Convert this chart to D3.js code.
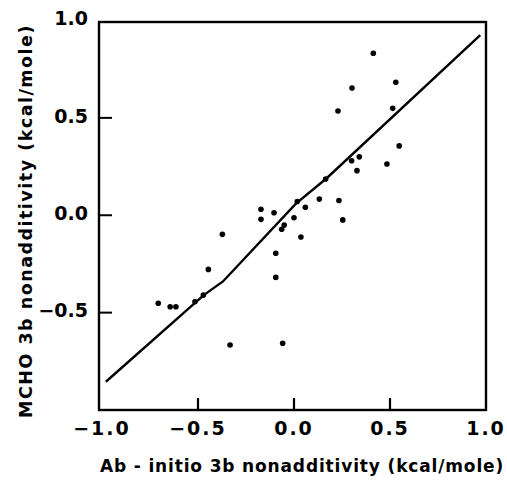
<!DOCTYPE html>
<html>
<head>
<meta charset="utf-8">
<script src="https://cdn.jsdelivr.net/npm/d3@7/dist/d3.min.js"></script>
<style>
  html, body { margin: 0; padding: 0; background: #fff; }
  svg { display: block; }
  text { font-family: "DejaVu Sans", "Liberation Sans", sans-serif; fill: #000; }
</style>
</head>
<body>
<svg id="chart" width="507" height="484"></svg>
<script>
// Ab initio (x) vs MCHO (y) three-body nonadditivity, kcal/mole
const abInitio = [-0.707, -0.645, -0.615, -0.516, -0.472, -0.446, -0.373, -0.333,
  -0.172, -0.172, -0.104, -0.095, -0.095, -0.059, -0.064, -0.051, 0.0, 0.017,
  0.036, 0.059, 0.132, 0.234, 0.254, 0.165, 0.300, 0.340, 0.328, 0.484, 0.548,
  0.229, 0.302, 0.514, 0.530, 0.413];
const mcho = [-0.452, -0.470, -0.470, -0.444, -0.410, -0.278, -0.098, -0.666,
  0.031, -0.021, 0.013, -0.195, -0.319, -0.657, -0.072, -0.050, -0.013, 0.070,
  -0.112, 0.041, 0.083, 0.076, -0.024, 0.186, 0.280, 0.300, 0.229, 0.263, 0.356,
  0.535, 0.653, 0.549, 0.683, 0.832];

// fitted trend line
const fitX = [-0.98, -0.47, -0.37, 0.01, 0.17, 0.97];
const fitY = [-0.855, -0.41, -0.34, 0.06, 0.19, 0.925];

const xTicks = [-1.0, -0.5, 0.0, 0.5, 1.0];
const yTicks = [-0.5, 0.0, 0.5, 1.0];

const svg = d3.select("#chart");
const x = d3.scaleLinear().domain([-1, 1]).range([102, 486]);
const y = d3.scaleLinear().domain([-1, 1]).range([410, 20.5]);

const frame = { left: 99, right: 486, top: 22, bottom: 410 };

// plot frame
svg.append("rect")
  .attr("x", frame.left).attr("y", frame.top)
  .attr("width", frame.right - frame.left).attr("height", frame.bottom - frame.top)
  .attr("fill", "none").attr("stroke", "#000").attr("stroke-width", 2.4);

// inward tick marks
svg.selectAll(".ytick").data(yTicks.filter(v => v < 1)).join("line")
  .attr("x1", frame.left).attr("x2", frame.left + 13)
  .attr("y1", d => y(d)).attr("y2", d => y(d))
  .attr("stroke", "#000").attr("stroke-width", 2);
svg.selectAll(".xtick").data(xTicks.filter(v => v > -1 && v < 1)).join("line")
  .attr("x1", d => x(d)).attr("x2", d => x(d))
  .attr("y1", frame.bottom).attr("y2", frame.bottom - 12)
  .attr("stroke", "#000").attr("stroke-width", 2.2);

const fmt = d3.format(".1f");

// y tick labels
svg.selectAll(".ylab").data(yTicks).join("text")
  .attr("x", 88).attr("y", d => y(d) - 2)
  .attr("dy", "0.35em").attr("text-anchor", "end")
  .attr("font-size", 19).attr("font-weight", "bold")
  .text(d => fmt(d));

// x tick labels
svg.selectAll(".xlab").data(xTicks).join("text")
  .attr("x", d => x(d)).attr("y", 435)
  .attr("text-anchor", "middle")
  .attr("font-size", 19).attr("font-weight", "bold")
  .attr("letter-spacing", 2)
  .text(d => fmt(d));

// axis titles
svg.append("text")
  .attr("transform", "translate(32,221) rotate(-90)")
  .attr("text-anchor", "middle")
  .attr("font-size", 17.5).attr("font-weight", "bold")
  .attr("letter-spacing", 1.5)
  .text("MCHO 3b nonadditivity (kcal/mole)");
svg.append("text")
  .attr("x", 302).attr("y", 472)
  .attr("text-anchor", "middle")
  .attr("font-size", 17).attr("font-weight", "bold")
  .attr("letter-spacing", 0.85)
  .text("Ab - initio 3b nonadditivity (kcal/mole)");

// trend line
const line = d3.line().x(d => x(d[0])).y(d => y(d[1]));
svg.append("path")
  .datum(fitX.map((v, i) => [v, fitY[i]]))
  .attr("d", line)
  .attr("fill", "none").attr("stroke", "#000").attr("stroke-width", 2.4);

// data points
svg.selectAll(".pt").data(abInitio.map((v, i) => [v, mcho[i]])).join("circle")
  .attr("cx", d => x(d[0])).attr("cy", d => y(d[1]))
  .attr("r", 2.8).attr("fill", "#000");
</script>
</body>
</html>
